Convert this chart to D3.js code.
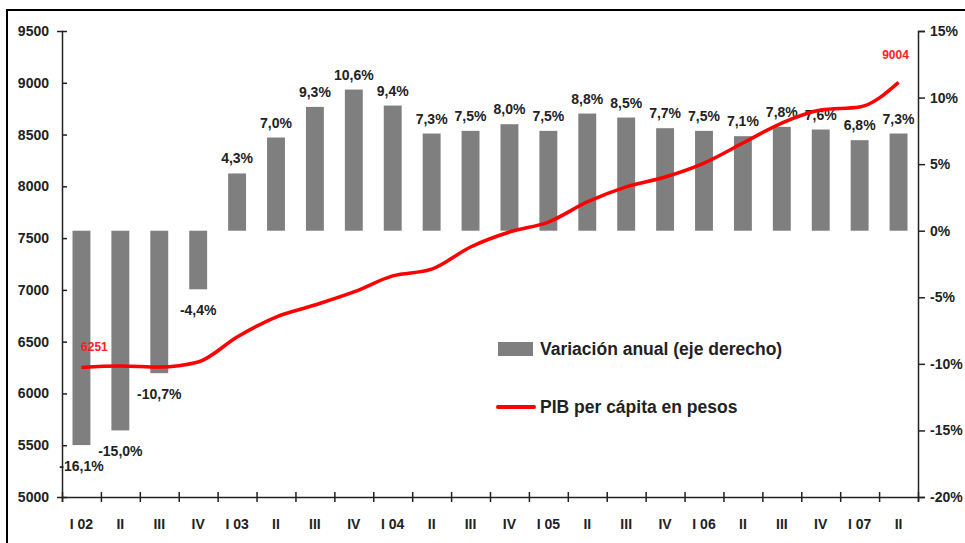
<!DOCTYPE html>
<html>
<head>
<meta charset="utf-8">
<script src="https://cdn.jsdelivr.net/npm/d3@7"></script>
<style>
body { margin: 0; background: #fff; }
svg text { font-family: Arial, "Liberation Sans", sans-serif; font-weight: bold; fill: #222; }
.axis path, .axis line { stroke: #222; stroke-width: 1.5; }
</style>
</head>
<body>
<div class="chart"></div>
<script>
// DATA
var quarters = ["I 02", "II", "III", "IV", "I 03", "II", "III", "IV", "I 04", "II", "III",
	"IV", "I 05", "II", "III", "IV", "I 06", "II", "III", "IV", "I 07", "II"];

// annual variation, % (right axis)
var variacion = [-16.1, -15.0, -10.7, -4.4, 4.3, 7.0, 9.3, 10.6, 9.4, 7.3, 7.5,
	8.0, 7.5, 8.8, 8.5, 7.7, 7.5, 7.1, 7.8, 7.6, 6.8, 7.3];

// PIB per capita in pesos (left axis)
var pib = [6251, 6265, 6255, 6304, 6545, 6738, 6854, 6980, 7135, 7200, 7414,
	7559, 7655, 7849, 7994, 8090, 8225, 8418, 8611, 8737, 8766, 9004];

var leftTicks = [5000, 5500, 6000, 6500, 7000, 7500, 8000, 8500, 9000, 9500];
var rightTicks = [-20, -15, -10, -5, 0, 5, 10, 15];

// LAYOUT
var width = 965, height = 543;
var plot = { left: 62, right: 918, top: 31, bottom: 497 };

var svg = d3.select(".chart")
	.append("svg")
	.attr("width", width)
	.attr("height", height);

// frame
svg.append("path")
	.attr("d", "M7," + height + "V10H" + width)
	.attr("fill", "none")
	.attr("stroke", "#000")
	.attr("stroke-width", 2);

var x = d3.scaleBand()
	.domain(d3.range(quarters.length))
	.range([plot.left, plot.right])
	.paddingInner(0.54)
	.paddingOuter(0.27);

var xTick = d3.scaleLinear()
	.domain([0, quarters.length])
	.range([plot.left, plot.right]);

var yL = d3.scaleLinear()
	.domain([5000, 9500])
	.range([plot.bottom, plot.top]);

var yR = d3.scaleLinear()
	.domain([-20, 15])
	.range([plot.bottom, plot.top]);

var fmtPct = function(v) {
	return d3.format(".1f")(v).replace("−", "-").replace(".", ",") + "%";
};

// bars
svg.append("g")
	.selectAll("rect")
	.data(variacion)
	.enter().append("rect")
		.attr("x", function(d, i) { return x(i); })
		.attr("y", function(d) { return yR(Math.max(0, d)); })
		.attr("width", x.bandwidth())
		.attr("height", function(d) { return Math.abs(yR(d) - yR(0)); })
		.attr("fill", "#7f7f7f");

// bar labels
svg.append("g")
	.selectAll("text")
	.data(variacion)
	.enter().append("text")
		.attr("x", function(d, i) { return x(i) + x.bandwidth() / 2; })
		.attr("y", function(d) { return d >= 0 ? yR(d) - 10 : yR(d) + 26; })
		.attr("text-anchor", "middle")
		.style("font-size", "14px")
		.text(fmtPct);

// line
var line = d3.line()
	.x(function(d, i) { return x(i) + x.bandwidth() / 2; })
	.y(function(d) { return yL(d); })
	.curve(d3.curveMonotoneX);

svg.append("path")
	.datum(pib)
	.attr("d", line)
	.attr("fill", "none")
	.attr("stroke", "#ff0000")
	.attr("stroke-width", 3.5);

// first and last value
var lastIdx = pib.length - 1;
svg.append("text")
	.attr("x", x(0) + x.bandwidth() / 2 + 13)
	.attr("y", yL(pib[0]) - 16)
	.attr("text-anchor", "middle")
	.style("font-size", "12px")
	.style("fill", "#ff2020")
	.text(pib[0]);

svg.append("text")
	.attr("x", x(lastIdx) + x.bandwidth() / 2 - 3)
	.attr("y", yL(pib[lastIdx]) - 23)
	.attr("text-anchor", "middle")
	.style("font-size", "12px")
	.style("fill", "#ff2020")
	.text(pib[lastIdx]);

// axes
var gL = svg.append("g")
	.attr("class", "axis")
	.attr("transform", "translate(" + plot.left + ",0)")
	.call(d3.axisLeft(yL).tickValues(leftTicks).tickSize(5).tickPadding(8).tickFormat(d3.format("d")));
gL.selectAll(".tick line").attr("x2", 5);
gL.selectAll("text").style("font-size", "14px");

var gR = svg.append("g")
	.attr("class", "axis")
	.attr("transform", "translate(" + plot.right + ",0)")
	.call(d3.axisRight(yR).tickValues(rightTicks).tickSize(7).tickPadding(5)
		.tickFormat(function(d) { return d + "%"; }));
gR.selectAll("text").style("font-size", "14px");

var gX = svg.append("g")
	.attr("class", "axis")
	.attr("transform", "translate(0," + plot.bottom + ")")
	.call(d3.axisBottom(xTick).ticks(quarters.length).tickSize(5).tickFormat(""));
gX.selectAll(".tick line").attr("y1", -5);

var gXl = svg.append("g")
	.attr("transform", "translate(0," + plot.bottom + ")")
	.call(d3.axisBottom(x).tickSize(0).tickPadding(22).tickFormat(function(i) { return quarters[i]; }));
gXl.select(".domain").remove();
gXl.selectAll("text").style("font-size", "14px");

// legend
var legend = svg.append("g").attr("transform", "translate(498,349)");
legend.append("rect")
	.attr("x", 0).attr("y", -7)
	.attr("width", 35).attr("height", 14)
	.attr("fill", "#7f7f7f");
legend.append("text")
	.attr("x", 42).attr("y", 6)
	.style("font-size", "17.5px")
	.text("Variación anual (eje derecho)");

legend.append("line")
	.attr("x1", 0).attr("x2", 36)
	.attr("y1", 58).attr("y2", 58)
	.attr("stroke", "#ff0000")
	.attr("stroke-width", 4)
	.attr("stroke-linecap", "round");
legend.append("text")
	.attr("x", 42).attr("y", 64)
	.style("font-size", "17.5px")
	.text("PIB per cápita en pesos");
</script>
</body>
</html>
